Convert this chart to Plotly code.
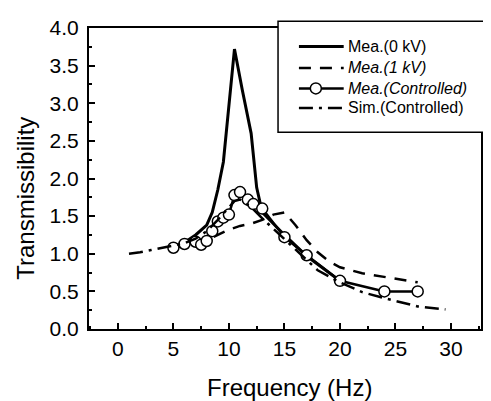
import plotly.graph_objects as go

# Mea.(0 kV)
x_0kv = [5, 6, 7, 8, 8.5, 9, 9.5, 10.5, 11.2, 12, 12.5, 13, 15, 17, 20]
y_0kv = [1.08, 1.15, 1.25, 1.38, 1.55, 1.85, 2.22, 3.72, 3.18, 2.6, 1.88, 1.55, 1.25, 0.97, 0.64]

# Mea.(1 kV)
x_1kv = [5, 7, 8, 9, 10, 11, 12, 13, 14, 15, 16, 17, 18, 19, 20, 22, 25, 27]
y_1kv = [1.08, 1.13, 1.18, 1.25, 1.32, 1.37, 1.4, 1.45, 1.52, 1.55, 1.38, 1.18, 1.02, 0.9, 0.82, 0.74, 0.67, 0.62]

# Mea.(Controlled)
x_ctrl = [5, 6, 7, 7.5, 8, 8.5, 9, 9.5, 10, 10.5, 11, 11.7, 12.2, 13, 15, 17, 20, 24, 27]
y_ctrl = [1.08, 1.13, 1.16, 1.12, 1.17, 1.30, 1.43, 1.48, 1.52, 1.78, 1.82, 1.72, 1.66, 1.60, 1.22, 0.98, 0.64, 0.50, 0.50]

# Sim.(Controlled)
x_sim = [1, 2, 3, 4, 5, 6, 7, 8, 9, 10, 10.5, 11, 12, 13, 14, 15, 16, 17, 18, 20, 22, 24, 27, 29.5]
y_sim = [1.0, 1.02, 1.05, 1.08, 1.1, 1.14, 1.2, 1.3, 1.45, 1.62, 1.7, 1.72, 1.62, 1.47, 1.33, 1.2, 1.06, 0.92, 0.78, 0.62, 0.49, 0.41, 0.30, 0.26]

x_ticks = [0, 5, 10, 15, 20, 25, 30]
y_ticks = [0.0, 0.5, 1.0, 1.5, 2.0, 2.5, 3.0, 3.5, 4.0]

series_names = ["Mea.(0 kV)", "Mea.(1 kV)", "Mea.(Controlled)", "Sim.(Controlled)"]

FONT = "Liberation Sans, Arial"

# page-pixel -> paper helpers (plot area spans x 89..483, y 20..329 on the page)
def px(x):
    return (x - 89) / 394

def py(y):
    return (329 - y) / 309

styles = [
    dict(color="black", width=3),
    dict(color="black", width=2.5, dash="12px,9px"),
    dict(color="black", width=2.5),
    dict(color="black", width=2.5, dash="14px,6px,3px,6px"),
]

fig = go.Figure()
fig.add_trace(go.Scatter(x=x_0kv, y=y_0kv, mode="lines", name=series_names[0], line=styles[0]))
fig.add_trace(go.Scatter(x=x_1kv, y=y_1kv, mode="lines", name=series_names[1], line=styles[1]))
fig.add_trace(go.Scatter(x=x_ctrl, y=y_ctrl, mode="lines+markers", name=series_names[2],
                         line=styles[2],
                         marker=dict(symbol="circle", size=11, color="white",
                                     line=dict(color="black", width=1.5))))
fig.add_trace(go.Scatter(x=x_sim, y=y_sim, mode="lines", name=series_names[3], line=styles[3]))

axis_common = dict(showline=True, linecolor="black", linewidth=2, mirror=True,
                   ticks="inside", ticklen=6, tickwidth=1.5, tickcolor="black",
                   showgrid=False, zeroline=False,
                   tickfont=dict(family=FONT, size=21, color="black"))

fig.update_xaxes(range=[-2.6, 32.7], tickvals=x_ticks, ticktext=[str(v) for v in x_ticks],
                 minor=dict(ticks="inside", ticklen=3, dtick=2.5, tick0=0, tickcolor="black"),
                 ticklabelstandoff=0,
                 **axis_common)
fig.update_yaxes(range=[0, 4.0], tickvals=y_ticks, ticktext=[f"{v:.1f}" for v in y_ticks],
                 minor=dict(ticks="inside", ticklen=3, dtick=0.25, tick0=0, tickcolor="black"),
                 ticklabelstandoff=4,
                 **axis_common)

# axis titles
fig.add_annotation(text="Frequency (Hz)", xref="paper", yref="paper",
                   x=px(291), y=py(389), xanchor="center", yanchor="middle",
                   showarrow=False, font=dict(family=FONT, size=24, color="black"))
fig.add_annotation(text="Transmissibility", xref="paper", yref="paper",
                   x=px(25), y=py(195), xanchor="center", yanchor="middle",
                   textangle=-90, showarrow=False, font=dict(family=FONT, size=24, color="black"))

# legend frame
fig.add_shape(type="rect", xref="paper", yref="paper",
              x0=px(279), x1=px(488), y0=py(127), y1=py(13),
              line=dict(color="black", width=1.5), fillcolor="white", layer="above")

# legend entries
row_y = [39, 61, 82, 102]
italic = [False, True, True, False]
for name, st, yy, it in zip(series_names, styles, row_y, italic):
    fig.add_shape(type="line", xref="paper", yref="paper",
                  x0=px(300), x1=px(345), y0=py(yy), y1=py(yy),
                  line=st, layer="above")
    fig.add_annotation(text=f"<i>{name}</i>" if it else name, xref="paper", yref="paper",
                       x=px(347), y=py(yy), xanchor="left", yanchor="middle",
                       showarrow=False, font=dict(family=FONT, size=16, color="black"))
# marker in the legend key of Mea.(Controlled)
fig.add_shape(type="circle", xref="paper", yref="paper", xsizemode="pixel", ysizemode="pixel",
              xanchor=px(317), yanchor=py(row_y[2]), x0=-5.5, x1=5.5, y0=-5.5, y1=5.5,
              line=dict(color="black", width=1.5), fillcolor="white", layer="above")

fig.update_layout(
    width=483, height=393,
    margin=dict(l=81, r=8, t=12, b=72),
    plot_bgcolor="white", paper_bgcolor="white",
    font=dict(family=FONT, color="black"),
    showlegend=False,
)

fig.write_html("out.html")
